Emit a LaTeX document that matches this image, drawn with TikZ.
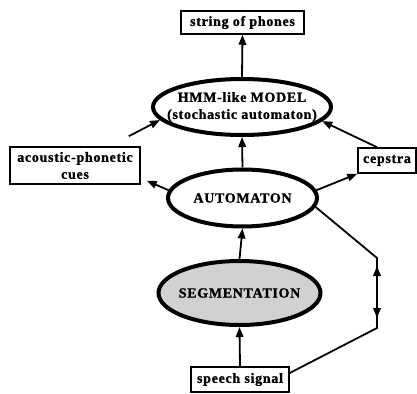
\documentclass[tikz,border=0pt]{standalone}
\usepackage{fontspec}
\setmainfont{Liberation Serif}[LetterSpace=5,FakeBold=1.2]
\usetikzlibrary{shapes.geometric,arrows.meta}
\begin{document}
\begin{tikzpicture}[x=1pt,y=-1pt,
  every node/.style={font=\fontsize{14}{17}\selectfont\bfseries, align=center},
  box/.style={draw, line width=1.5pt, inner sep=0pt},
  oval/.style={draw, ellipse, line width=4pt, inner sep=0pt},
  arr/.style={line width=1.8pt, -{Triangle[length=10pt,width=7.5pt]}},
  conn/.style={line width=1.8pt},
  ]
\useasboundingbox (0,0) rectangle (417,393);
\node[box, minimum width=123pt, minimum height=23pt] (sp) at (242.5,22.5) {string of phones};
\node[oval, minimum width=178pt, minimum height=56pt] (hmm) at (242,107) {};
\node (hmmt) at (hmm.center) {HMM-like MODEL\\(stochastic automaton)};
\node[box, minimum width=130pt, minimum height=37pt] (ap) at (75,165.5) {acoustic-phonetic\\cues};
\node[box, minimum width=58pt, minimum height=25pt] (cep) at (387,160.5) {cepstra};
\node[oval, minimum width=149pt, minimum height=57pt] (aut) at (242.5,198) {};
\node (autt) at (aut.center) {AUTOMATON};
\node[oval, fill=black!18, minimum width=162pt, minimum height=64pt] (seg) at (239.5,293) {};
\node (segt) at (seg.center) {SEGMENTATION};
\node[box, minimum width=98pt, minimum height=25pt] (sig) at (240,379.5) {speech signal};
\coordinate (r1) at (377,258);
\coordinate (r2) at (377,328);
\coordinate (a1) at (377,266);
\coordinate (a2) at (377,318);

\draw[arr] (hmm.north) -- (sp.south);
\draw[arr] (aut.north) -- (hmm.south);
\draw[arr] (seg.north) -- (aut.south);
\draw[arr] (sig.north) -- (seg.south);
\draw[arr] ([shift={(-12,-10)}]ap.north east) -- (hmm.189);
\draw[arr] ([shift={(-10,0)}]cep.north) -- (hmm.350);
\draw[arr] (aut.174) -- ([shift={(6,-4)}]ap.south east);
\draw[arr] (aut.6) -- (cep.south west);
\draw[conn] (aut.-7) -- (r1) -- (r2) -- ([shift={(0,-6.5)}]sig.east);
\draw[conn, {Triangle[length=10pt,width=7.5pt]}-{Triangle[length=10pt,width=7.5pt]}] (a1) -- (a2);
\end{tikzpicture}
\end{document}
